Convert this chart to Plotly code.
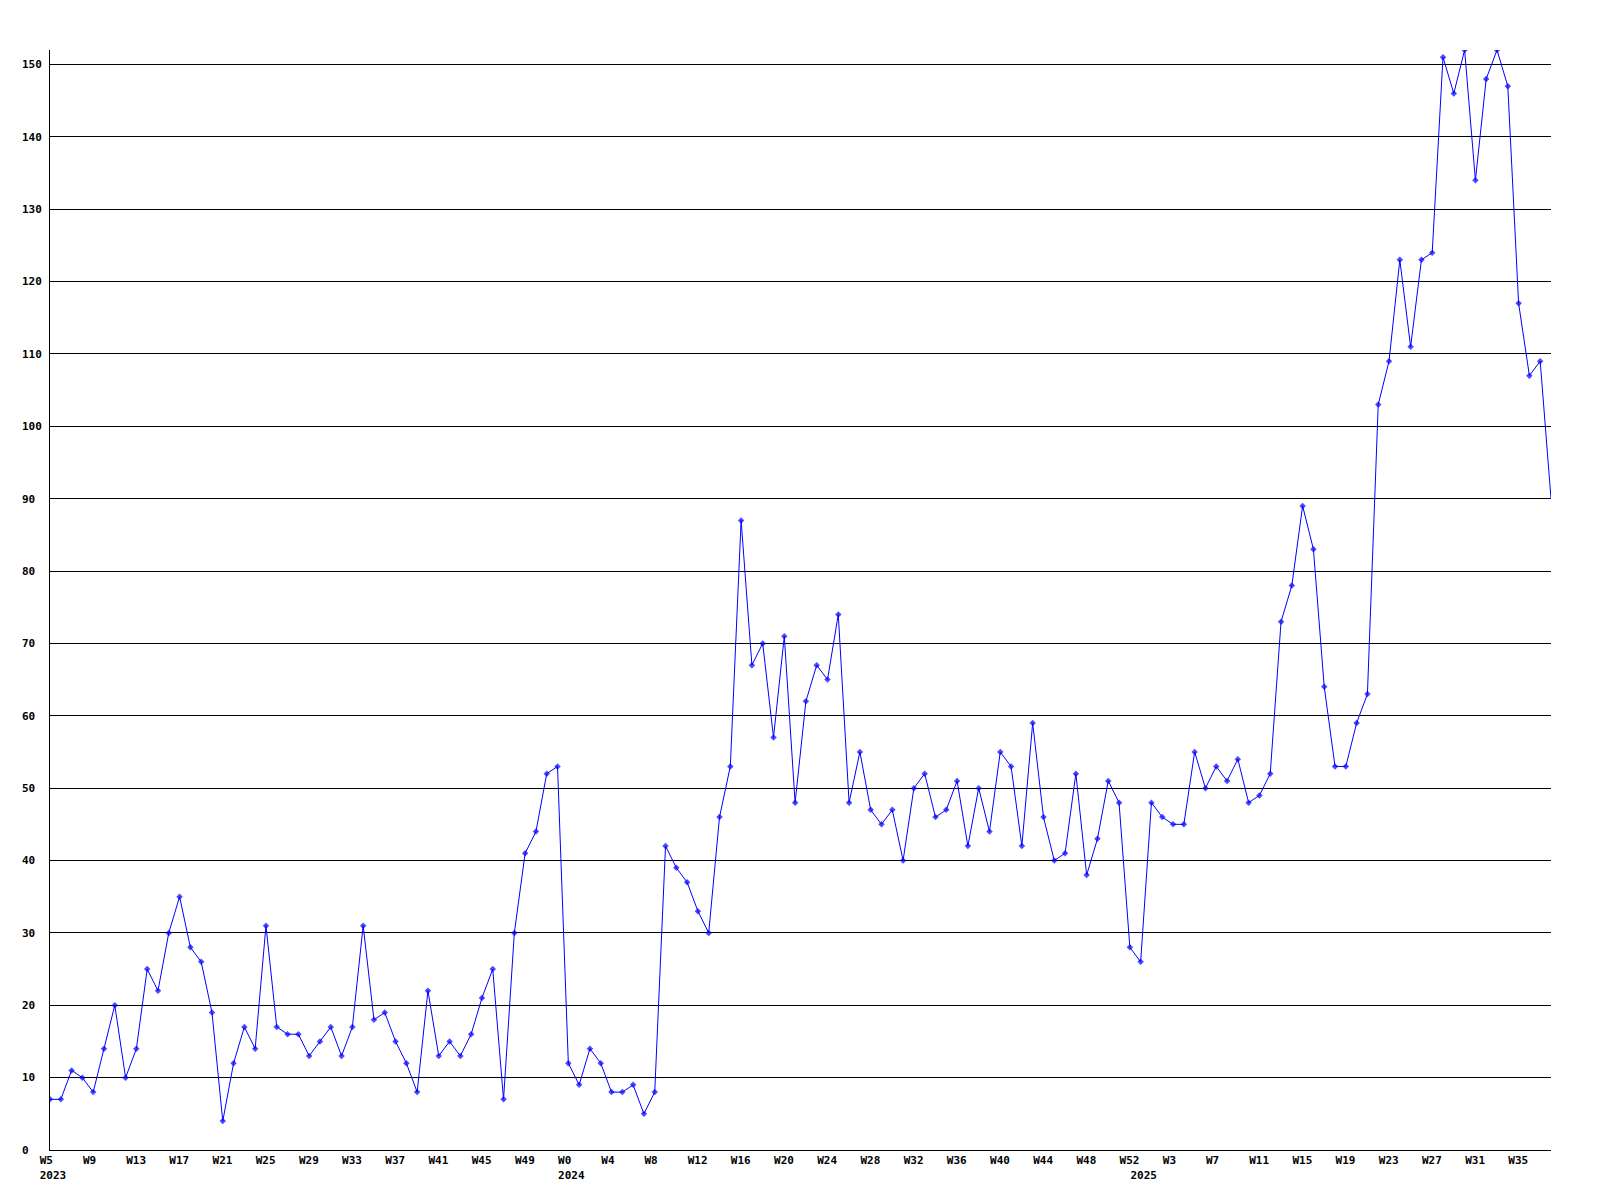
import plotly.graph_objects as go

# ---- data (weekly counts) ----
weeks_2023 = list(range(5, 53))
weeks_2024 = list(range(0, 53))
weeks_2025 = list(range(0, 39))

values_2023 = [7, 7, 11, 10, 8, 14, 20, 10, 14, 25, 22, 30, 35, 28, 26, 19, 4, 12, 17, 14,
               31, 17, 16, 16, 13, 15, 17, 13, 17, 31, 18, 19, 15, 12, 8, 22, 13, 15, 13, 16,
               21, 25, 7, 30, 41, 44, 52, 53]
values_2024 = [12, 9, 14, 12, 8, 8, 9, 5, 8, 42, 39, 37, 33, 30, 46, 53, 87, 67, 70, 57,
               71, 48, 62, 67, 65, 74, 48, 55, 47, 45, 47, 40, 50, 52, 46, 47, 51, 42, 50, 44,
               55, 53, 42, 59, 46, 40, 41, 52, 38, 43, 51, 48, 28]
values_2025 = [26, 48, 46, 45, 45, 55, 50, 53, 51, 54, 48, 49, 52, 73, 78, 89, 83, 64, 53, 53,
               59, 63, 103, 109, 123, 111, 123, 124, 151, 146, 152, 134, 148, 152, 147, 117, 107, 109, 90]

y_ticks = list(range(0, 151, 10))

# ---- build series ----
years = [2023] * len(weeks_2023) + [2024] * len(weeks_2024) + [2025] * len(weeks_2025)
weeks = weeks_2023 + weeks_2024 + weeks_2025
values = values_2023 + values_2024 + values_2025
n = len(values)
x = list(range(n))

NB = "\u00a0"


def pad(s, w=4):
    return s + NB * (w - len(s))


tickvals, ticktext = [], []
for i in range(n):
    first_of_year = (i == 0) or (weeks[i] == 0)
    if i % 4 == 0:
        t = pad(f"W{weeks[i]}")
        if first_of_year:
            t += "<br>" + pad(str(years[i]))
        tickvals.append(i)
        ticktext.append(t)
    elif first_of_year:
        tickvals.append(i)
        ticktext.append(NB * 4 + "<br>" + pad(str(years[i])))

font = dict(family="DejaVu Sans Mono", size=11, color="black", weight="bold")

marker_sizes = [5] * (n - 1) + [0]

fig = go.Figure(
    go.Scatter(
        x=x,
        y=values,
        mode="lines+markers",
        line=dict(color="#0000ff", width=1),
        marker=dict(color="#0000ff", symbol="diamond", size=marker_sizes, line=dict(width=0)),
        hoverinfo="x+y",
    )
)

# the page body adds an 8px offset; compensate so the plot area sits at 50..1551 x 50..1150
fig.update_layout(
    width=1592,
    height=1192,
    margin=dict(l=42, r=49, t=42, b=50),
    paper_bgcolor="white",
    plot_bgcolor="white",
    showlegend=False,
    font=font,
)

fig.update_xaxes(
    range=[0, n - 1],
    tickmode="array",
    tickvals=tickvals,
    ticktext=ticktext,
    tickangle=0,
    tickfont=font,
    ticks="",
    ticklabelshift=3,
    showgrid=False,
    zeroline=False,
    showline=True,
    linecolor="black",
    linewidth=1,
)

fig.update_yaxes(
    range=[0, 152],
    tickmode="array",
    tickvals=y_ticks,
    ticktext=[pad(str(v), 3) for v in y_ticks],
    tickfont=font,
    ticks="",
    ticklabelstandoff=5,
    showgrid=True,
    gridcolor="black",
    gridwidth=1,
    zeroline=False,
    showline=True,
    linecolor="black",
    linewidth=1,
)

fig.write_html("out.html")
